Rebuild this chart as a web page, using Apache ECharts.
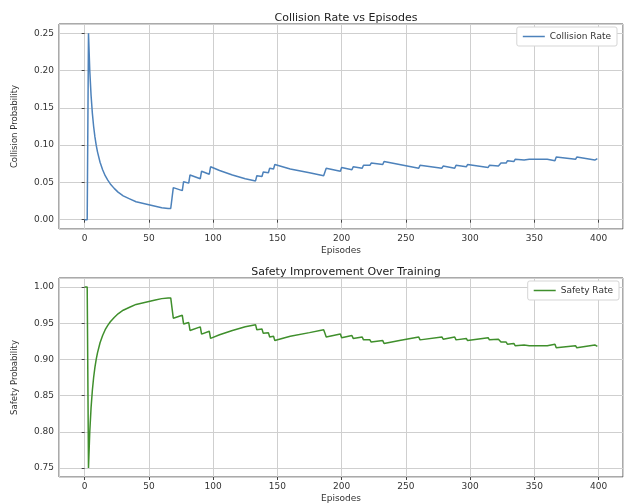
<!DOCTYPE html>
<html>
<head>
<meta charset="utf-8">
<script src="https://cdn.jsdelivr.net/npm/echarts@6/dist/echarts.min.js"></script>
<style>
html,body{margin:0;padding:0;background:#fff;}
#chart{width:627px;height:504px;}
</style>
</head>
<body>
<div id="chart"></div>
<script>
var collisionEpisodes = [0,1,2,3,4,5,6,7,8,9,10,12,14,16,18,20,23,26,30,35,40,45,50,55,60,65,67,68,69,76,77,81,82,90,91,97,98,105,115,125,133,134,138,139,143,144,147,148,160,175,186,187,188,199,200,208,209,216,217,222,223,232,233,245,260,261,278,279,288,289,297,298,314,315,322,323,324,325,328,329,334,335,342,343,346,347,360,366,367,382,383,397,398,399];
var collisionValues = [0,0,0,0.25,0.20,0.167,0.143,0.125,0.111,0.100,0.091,0.077,0.067,0.059,0.053,0.048,0.042,0.037,0.032,0.028,0.024,0.022,0.020,0.018,0.016,0.015,0.015,0.029,0.043,0.039,0.051,0.049,0.060,0.055,0.065,0.061,0.071,0.066,0.060,0.055,0.052,0.059,0.058,0.064,0.063,0.069,0.068,0.074,0.068,0.063,0.059,0.064,0.069,0.065,0.070,0.067,0.071,0.069,0.073,0.073,0.076,0.074,0.078,0.074,0.069,0.073,0.069,0.072,0.069,0.073,0.071,0.074,0.070,0.073,0.072,0.074,0.076,0.077,0.076,0.079,0.078,0.081,0.080,0.082,0.081,0.083,0.081,0.079,0.084,0.081,0.084,0.080,0.082,0.082];

// Bottom chart
var safetyEpisodes = [0,1,2,3,4,5,6,7,8,9,10,12,14,16,18,20,23,26,30,35,40,45,50,55,60,65,67,68,69,76,77,81,82,90,91,97,98,105,115,125,133,134,138,139,143,144,147,148,160,175,186,187,188,199,200,208,209,216,217,222,223,232,233,245,260,261,278,279,288,289,297,298,314,315,322,323,324,325,328,329,334,335,342,343,346,347,360,366,367,382,383,397,398,399];
var safetyValues = [1,1,1,0.75,0.80,0.833,0.857,0.875,0.889,0.900,0.909,0.923,0.933,0.941,0.947,0.952,0.958,0.963,0.968,0.972,0.976,0.978,0.980,0.982,0.984,0.985,0.985,0.971,0.957,0.961,0.949,0.951,0.940,0.945,0.935,0.939,0.929,0.934,0.940,0.945,0.948,0.941,0.942,0.936,0.937,0.931,0.932,0.926,0.932,0.937,0.941,0.936,0.931,0.935,0.930,0.933,0.929,0.931,0.927,0.927,0.924,0.926,0.922,0.926,0.931,0.927,0.931,0.928,0.931,0.927,0.929,0.926,0.930,0.927,0.928,0.926,0.924,0.923,0.924,0.921,0.922,0.919,0.920,0.918,0.919,0.917,0.919,0.921,0.916,0.919,0.916,0.920,0.918,0.918];

var topTitle = 'Collision Rate vs Episodes';
var bottomTitle = 'Safety Improvement Over Training';

function pairs(xs, ys){ var o=[]; for(var i=0;i<xs.length;i++) o.push([xs[i], ys[i]]); return o; }

var FONT = 'DejaVu Sans';
var xFmt = function(v){ return Math.abs(v/50 - Math.round(v/50)) < 1e-6 ? String(Math.round(v)) : ''; };
var yFmt = function(v){ return Math.abs(v*20 - Math.round(v*20)) < 1e-6 ? v.toFixed(2) : ''; };

function xAxis(idx){
  return {
    type:'value', gridIndex:idx, min:-19.95, max:418.95, splitNumber:8,
    name:'Episodes', nameLocation:'middle', nameGap:17,
    nameTextStyle:{fontFamily:FONT, fontSize:9, color:'#333'},
    axisLine:{show:false},
    axisTick:{show:true, length:3, lineStyle:{color:'#444'}},
    axisLabel:{formatter:xFmt, fontFamily:FONT, fontSize:9, color:'#333', margin:5, showMinLabel:false, showMaxLabel:false},
    splitLine:{show:true, lineStyle:{color:'#cfcfcf', width:1}}
  };
}
function yAxis(idx, mn, mx, name){
  return {
    type:'value', gridIndex:idx, min:mn, max:mx, splitNumber:5,
    name:name, nameLocation:'middle', nameGap:40,
    nameTextStyle:{fontFamily:FONT, fontSize:8.5, color:'#333'},
    axisLine:{show:false},
    axisTick:{show:true, length:3, lineStyle:{color:'#444'}},
    axisLabel:{formatter:yFmt, fontFamily:FONT, fontSize:9, color:'#333', margin:5, showMinLabel:false, showMaxLabel:false},
    splitLine:{show:true, lineStyle:{color:'#cfcfcf', width:1}}
  };
}

var chart = echarts.init(document.getElementById('chart'), null, {renderer:'canvas'});
chart.setOption({
  animation:false,
  backgroundColor:'#fff',
  title:[
    {text:topTitle, left:341, top:8, textAlign:'center', textStyle:{fontFamily:FONT, fontSize:11, fontWeight:'normal', color:'#222'}},
    {text:bottomTitle, left:341, top:262, textAlign:'center', textStyle:{fontFamily:FONT, fontSize:11, fontWeight:'normal', color:'#222'}}
  ],
  legend:[
    {data:['Collision Rate'], right:10, top:27, orient:'vertical', icon:'rect', itemWidth:22, itemHeight:1.5, itemGap:4,
     padding:[5,6,5,6], borderColor:'#d5d5d5', borderWidth:1, borderRadius:2, backgroundColor:'#fff',
     textStyle:{fontFamily:FONT, fontSize:9, color:'#333'}},
    {data:['Safety Rate'], right:8, top:281, orient:'vertical', icon:'rect', itemWidth:22, itemHeight:1.5, itemGap:4,
     padding:[5,6,5,6], borderColor:'#d5d5d5', borderWidth:1, borderRadius:2, backgroundColor:'#fff',
     textStyle:{fontFamily:FONT, fontSize:9, color:'#333'}}
  ],
  grid:[
    {left:59, right:4, top:24, height:205, show:true, borderColor:'#555', borderWidth:1, backgroundColor:'transparent'},
    {left:59, right:4, top:278, height:205, show:true, borderColor:'#555', borderWidth:1, backgroundColor:'transparent'}
  ],
  xAxis:[xAxis(0), xAxis(1)],
  yAxis:[yAxis(0,-0.0125,0.2625,'Collision Probability'), yAxis(1,0.7375,1.0125,'Safety Probability')],
  series:[
    {name:'Collision Rate', type:'line', xAxisIndex:0, yAxisIndex:0, data:pairs(collisionEpisodes, collisionValues),
     symbol:'none', showSymbol:false, color:'#4d82bb', lineStyle:{width:1.5, color:'#4d82bb'}},
    {name:'Safety Rate', type:'line', xAxisIndex:1, yAxisIndex:1, data:pairs(safetyEpisodes, safetyValues),
     symbol:'none', showSymbol:false, color:'#3f8f2c', lineStyle:{width:1.5, color:'#3f8f2c'}}
  ]
});
</script>
</body>
</html>
